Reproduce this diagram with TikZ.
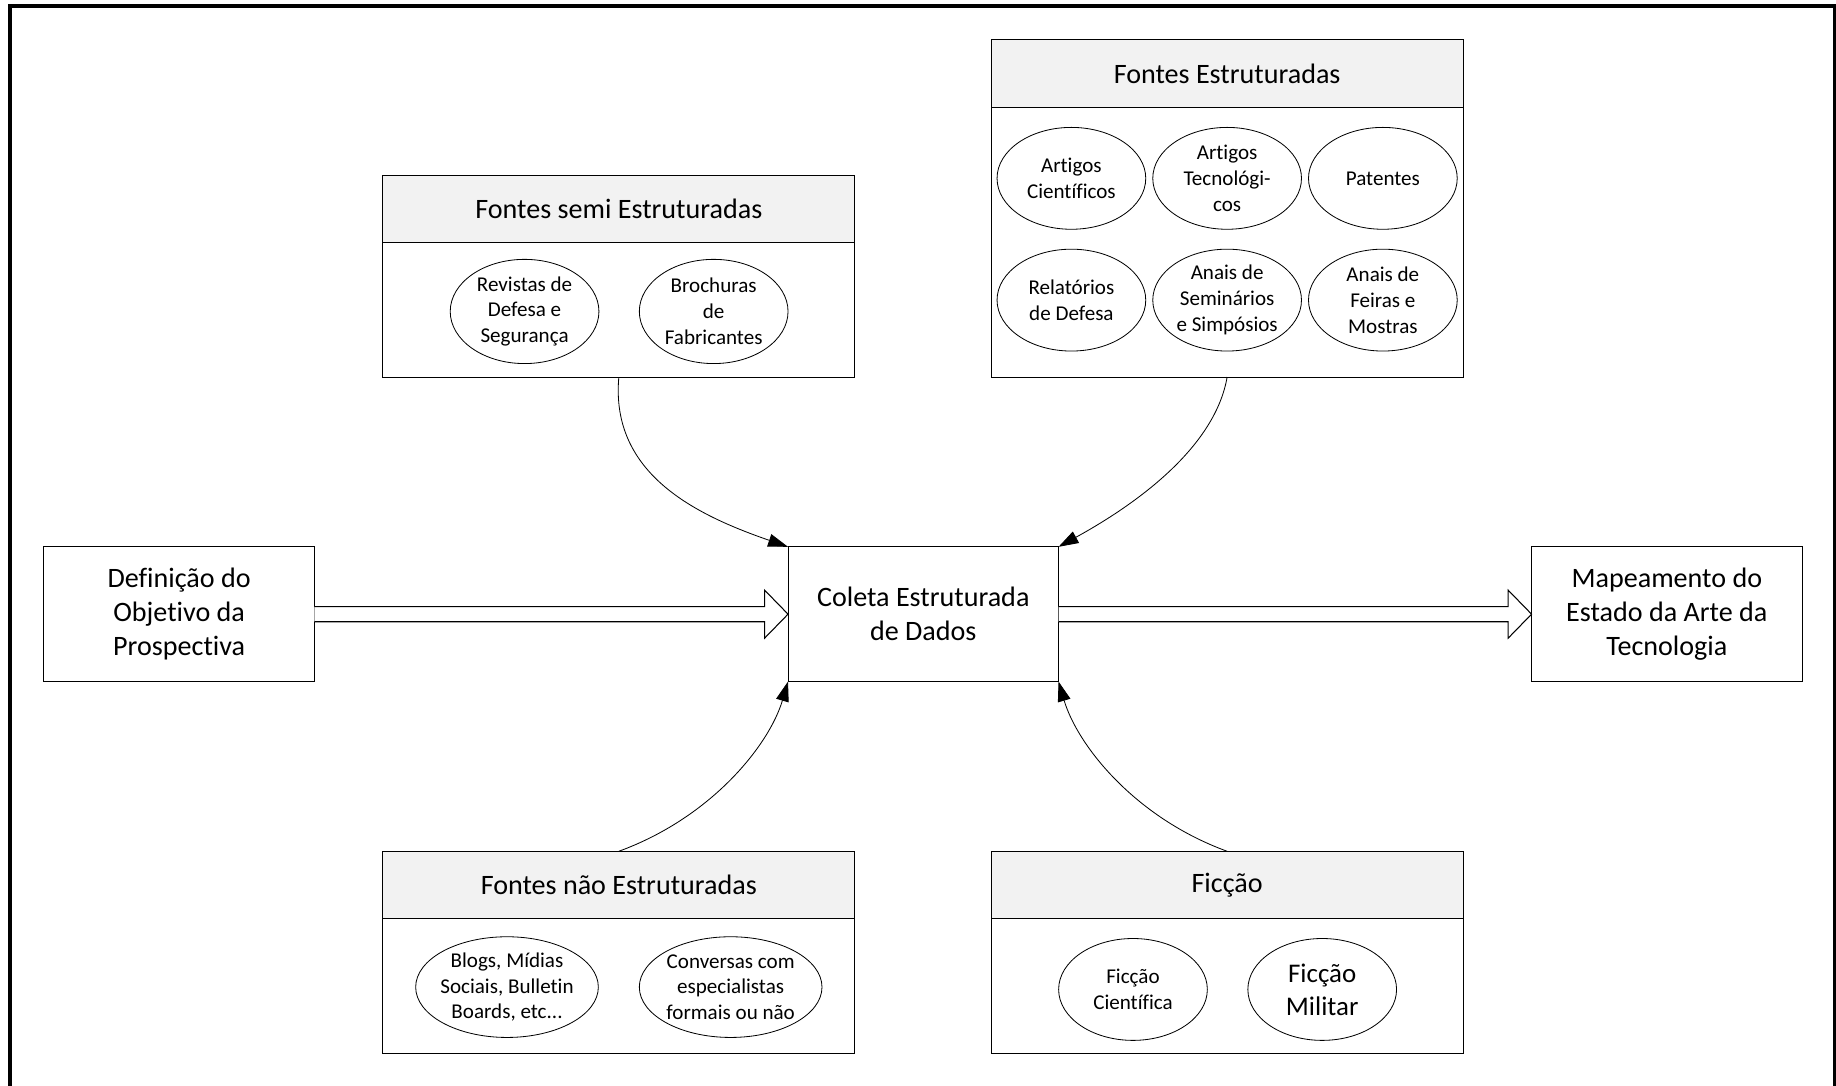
\documentclass[tikz,border=0pt]{standalone}
\usepackage{fontspec}
\setmainfont{Carlito}[Ligatures={NoCommon}]
\usetikzlibrary{shapes.geometric,arrows.meta,calc}

\definecolor{hdrgray}{RGB}{242,242,242}

\begin{document}
\begin{tikzpicture}[x=1pt,y=-1pt,
  every node/.style={inner sep=0pt, outer sep=0pt},
  box/.style={draw=black, line width=0.9pt, fill=white, minimum width=231pt,
    minimum height=115pt, align=center, font=\fontsize{24}{29}\selectfont},
  grp/.style={draw=black, line width=0.9pt, fill=white, minimum width=403pt},
  hdr/.style={draw=black, line width=0.9pt, fill=hdrgray, minimum width=403pt,
    minimum height=57.5pt, anchor=north, font=\fontsize{24}{29}\selectfont},
  oval/.style={draw=black, line width=0.7pt, ellipse, minimum width=127pt,
    minimum height=87pt},
  ovaltext/.style={align=center, font=\fontsize{18}{22}\selectfont},
  feed/.style={draw=black, line width=0.7pt, -{Triangle[length=17pt,width=11pt]}},
  hollow/.style={draw=black, line width=0.9pt, fill=white, line join=miter},
]
\useasboundingbox (0,0) rectangle (1568,927);

% outer frame (runs past the lower edge of the page)
\draw[line width=3pt] (8.5,5) rectangle (1566.5,960);

% main process boxes
\node[box] (def) at (153,524.5) {Definição do\\Objetivo da\\Prospectiva};
\node[box] (col) at (788.5,524.5) {Coleta Estruturada\\de Dados};
\node[box] (map) at (1423.5,524.5) {Mapeamento do\\Estado da Arte da\\Tecnologia};

% source groups
\node[grp, minimum height=172pt] (semi) at (528.5,236) {};
\node[hdr] (semih) at (semi.north) {Fontes semi Estruturadas};

\node[grp, minimum height=288pt] (estr) at (1048,178) {};
\node[hdr] (estrh) at (estr.north) {Fontes Estruturadas};

\node[grp, minimum height=173pt] (nao) at (528.5,813.5) {};
\node[hdr] (naoh) at (nao.north) {Fontes não Estruturadas};

\node[grp, minimum height=173pt] (fic) at (1048,813.5) {};
\node[hdr] (fich) at (fic.north) {Ficção};

% semi-structured sources
\node[oval, minimum height=89pt] (s1) at (448,266) {};
\node[ovaltext] (s1t) at (s1) {Revistas de\\Defesa e\\Segurança};
\node[oval, minimum height=89pt] (s2) at (609.5,266) {};
\node[ovaltext] (s2t) at (s2) {Brochuras\\de\\Fabricantes};

% structured sources
\node[oval] (e1) at (915,152.3) {};
\node[ovaltext] (e1t) at (e1) {Artigos\\Científicos};
\node[oval] (e2) at (1048,152.3) {};
\node[ovaltext] (e2t) at (e2) {Artigos\\Tecnológi-\\cos};
\node[oval] (e3) at (1181,152.3) {};
\node[ovaltext] (e3t) at (e3) {Patentes};
\node[oval] (e4) at (915,256.3) {};
\node[ovaltext] (e4t) at (e4) {Relatórios\\de Defesa};
\node[oval] (e5) at (1048,256.3) {};
\node[ovaltext] (e5t) at (e5) {Anais de\\Seminários\\e Simpósios};
\node[oval] (e6) at (1181,256.3) {};
\node[ovaltext] (e6t) at (e6) {Anais de\\Feiras e\\Mostras};

% unstructured sources
\node[oval, minimum width=156pt, minimum height=86pt] (n1) at (433,843) {};
\node[ovaltext] (n1t) at (n1) {Blogs, Mídias\\Sociais, Bulletin\\Boards, etc...};
\node[oval, minimum width=156pt, minimum height=86pt] (n2) at (624,843) {};
\node[ovaltext] (n2t) at (n2) {Conversas com\\especialistas\\formais ou não};

% fiction
\node[oval] (f1) at (967.6,845) {};
\node[ovaltext] (f1t) at (f1) {Ficção\\Científica};
\node[oval] (f2) at (1129.2,845) {};
\node[ovaltext, font=\fontsize{23}{28}\selectfont] (f2t) at (f2) {Ficção\\Militar};

% hollow block arrows along the main flow
\draw[hollow]
  ($(def.east)+(0,-6.5)$) -- ($(col.west)+(-20,-6.5)$) -- ($(col.west)+(-20,-20.5)$)
  -- (col.west) -- ($(col.west)+(-20,20.5)$) -- ($(col.west)+(-20,6.5)$)
  -- ($(def.east)+(0,6.5)$);
\draw[hollow]
  ($(col.east)+(0,-6.5)$) -- ($(map.west)+(-20,-6.5)$) -- ($(map.west)+(-20,-20.5)$)
  -- (map.west) -- ($(map.west)+(-20,20.5)$) -- ($(map.west)+(-20,6.5)$)
  -- ($(col.east)+(0,6.5)$);

% feeds from the source groups into data collection
\draw[feed] (semi.south) .. controls ($(semi.south)+(-7.5,83)$) and ($(col.north west)+(-78,-27)$) .. (col.north west);
\draw[feed] (estr.south) .. controls ($(estr.south)+(-10,58)$) and ($(col.north east)+(71,-39)$) .. (col.north east);
\draw[feed] (nao.north) .. controls ($(nao.north)+(79.5,-29)$) and ($(col.south west)+(-16,54)$) .. (col.south west);
\draw[feed] (fic.north) .. controls ($(fic.north)+(-79.5,-29)$) and ($(col.south east)+(16,54)$) .. (col.south east);
\end{tikzpicture}
\end{document}
